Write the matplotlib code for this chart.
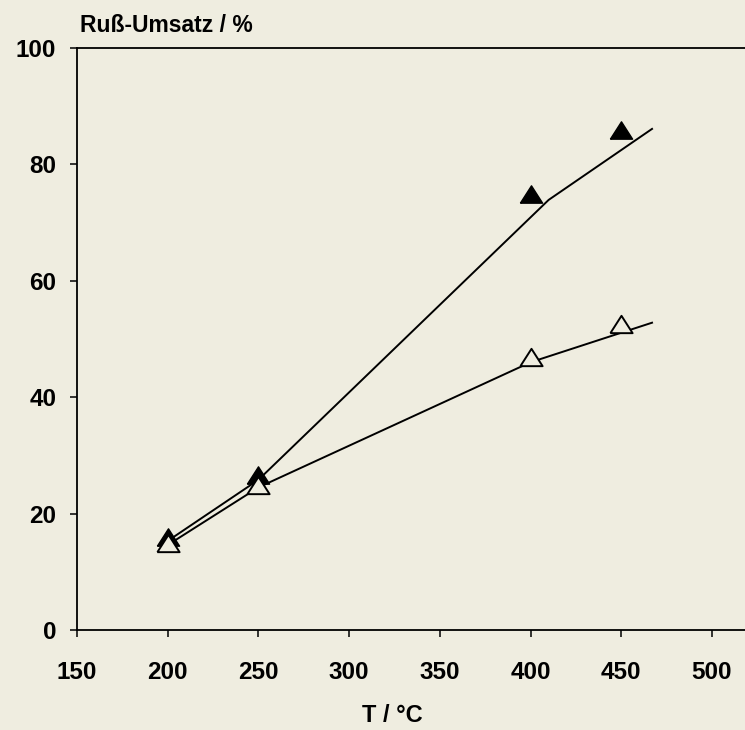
import numpy as np
from matplotlib import pyplot as plt

# measured points
temp = [200, 250, 400, 450]
umsatz_voll = [16.0, 26.6, 75.0, 85.9]    # filled triangles
umsatz_offen = [15.0, 24.9, 46.9, 52.6]   # open triangles

# drawn curves
kurve_x_voll = [200, 250, 410, 467]
kurve_y_voll = [15.3, 25.8, 73.9, 86.1]
kurve_x_offen = [200, 250, 400, 467]
kurve_y_offen = [14.6, 24.5, 46.0, 52.8]

xticks = [150, 200, 250, 300, 350, 400, 450, 500]
yticks = [0, 20, 40, 60, 80, 100]

bg = '#efede0'
plt.rcParams['font.family'] = ['Liberation Sans', 'DejaVu Sans']
plt.rcParams['font.weight'] = 'bold'

fig = plt.figure(figsize=(7.45, 7.30), dpi=100, facecolor=bg)
ax = fig.add_axes([77 / 745, 1 - 630 / 730, 668 / 745, 582 / 730], facecolor=bg)

# wider-than-tall triangle
tri = [(-1, -0.78), (1, -0.78), (0, 0.78), (-1, -0.78)]

ax.plot(kurve_x_voll, kurve_y_voll, color='black', lw=1.4)
ax.plot(kurve_x_offen, kurve_y_offen, color='black', lw=1.4)
ax.plot(temp, umsatz_voll, ls='none', marker=tri, ms=16, color='black')
ax.plot(temp, umsatz_offen, ls='none', marker=tri, ms=16, mfc=bg, mec='black', mew=1.4)

ax.set_xlim(150, 150 + 668 / 1.814)
ax.set_ylim(0, 100)
ax.set_xticks(xticks)
ax.set_yticks(yticks)
ax.tick_params(direction='out', length=5, width=1.1, labelsize=17.5, color='black')
ax.tick_params(axis='x', pad=17.5)
ax.tick_params(axis='y', pad=10)
for lab in ax.get_xticklabels() + ax.get_yticklabels():
    lab.set_fontweight('bold')
ax.spines['right'].set_visible(False)
for s in ['left', 'bottom', 'top']:
    ax.spines[s].set_linewidth(1.3)

fig.text(80 / 745, 1 - 26 / 730, 'Ruß-Umsatz / %', fontsize=16.5, fontweight='bold',
         ha='left', va='center')
fig.text(392 / 745, 1 - 715 / 730, 'T / °C', fontsize=17, fontweight='bold',
         ha='center', va='center')

plt.savefig('out.png', dpi=100, facecolor=bg)
